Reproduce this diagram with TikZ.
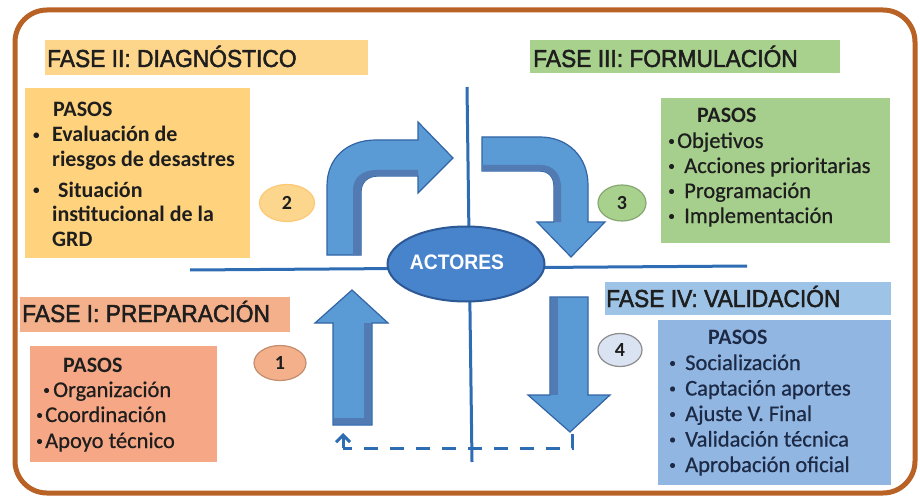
\documentclass[tikz,border=0pt]{standalone}
\usepackage{fontspec}
\setmainfont{Carlito}
\newfontfamily\boxfont[FakeBold=0.6]{Carlito}
\newfontfamily\fasefont[FakeStretch=0.93,FakeBold=2]{Liberation Sans}
\newfontfamily\actfont[FakeStretch=0.92]{Liberation Sans}
\usetikzlibrary{arrows.meta,shapes.geometric}
\definecolor{frame}{RGB}{185,98,38}
\definecolor{yelLbl}{RGB}{253,214,140}
\definecolor{yelBox}{RGB}{255,210,125}
\definecolor{yelCirc}{RGB}{252,214,140}
\definecolor{grnLbl}{RGB}{169,209,142}
\definecolor{grnBox}{RGB}{166,206,140}
\definecolor{salLbl}{RGB}{244,176,138}
\definecolor{salBox}{RGB}{246,168,134}
\definecolor{bluLbl}{RGB}{157,195,230}
\definecolor{bluBox}{RGB}{146,182,226}
\definecolor{greyCirc}{RGB}{218,227,242}
\definecolor{lineBlue}{RGB}{46,108,180}
\definecolor{arrFace}{RGB}{91,155,213}
\definecolor{arrDark}{RGB}{50,100,165}
\definecolor{ellFill}{RGB}{72,132,204}
\definecolor{ellEdge}{RGB}{44,88,150}
\definecolor{txtDark}{RGB}{30,30,30}
\definecolor{txtNavy}{RGB}{28,42,70}
\newcommand{\smallbul}{\raisebox{0.12em}{\scalebox{0.6}{\textbullet}}}
\begin{document}
\begin{tikzpicture}[x=1pt,y=-1pt,
  panel/.style={rectangle, inner sep=0pt, anchor=north west, draw=none},
  lbl/.style={anchor=base west, inner sep=0pt, text=txtDark, font=\fasefont\fontsize{24.5}{28}\selectfont},
  txt/.style={anchor=base west, inner sep=0pt, text=txtDark, font=\boxfont\fontsize{22.5}{26}\selectfont},
  btxt/.style={anchor=base west, inner sep=0pt, text=txtDark, font=\bfseries\fontsize{22}{26}\selectfont},
  num/.style={ellipse, inner sep=0pt, line width=1.2pt, font=\bfseries\fontsize{20}{24}\selectfont, text=txtDark},
  bigarrow/.style={fill=arrFace, draw=arrDark, line width=1.2pt, line join=miter},
  bevel/.style={fill=arrDark!85, draw=none},
  axis/.style={draw=lineBlue, line width=3pt},
  dashline/.style={draw=lineBlue, line width=3pt, dash pattern=on 14pt off 12pt}
]
\useasboundingbox (0,0) rectangle (920,497);
\fill[white] (0,0) rectangle (920,497);
% frame
\draw[frame, line width=5pt, rounded corners=32pt] (15,10) rectangle (915,493);

% phase labels
\node[panel, fill=yelLbl, minimum width=323pt, minimum height=35pt] (l2) at (45,40) {};
\node[panel, fill=grnLbl, minimum width=310pt, minimum height=33pt] (l3) at (530,40) {};
\node[panel, fill=salLbl, minimum width=270pt, minimum height=35pt] (l1) at (20,297) {};
\node[panel, fill=bluLbl, minimum width=286pt, minimum height=33pt] (l4) at (605,282) {};
\node[lbl] (t2) at (47,67) {FASE II: DIAGNÓSTICO};
\node[lbl] (t3) at (533,67) {FASE III: FORMULACIÓN};
\node[lbl] (t1) at (22,322) {FASE I: PREPARACIÓN};
\node[lbl] (t4) at (606,307) {FASE IV: VALIDACIÓN};

% step boxes
\node[panel, fill=yelBox, minimum width=225pt, minimum height=170pt] (b2) at (25,88) {};
\node[panel, fill=grnBox, minimum width=229pt, minimum height=145pt] (b3) at (661,98) {};
\node[panel, fill=salBox, minimum width=187pt, minimum height=116pt] (b1) at (30,346) {};
\node[panel, fill=bluBox, minimum width=233pt, minimum height=165pt] (b4) at (658,320) {};

% box II text
\node[btxt] (p2) at (53,117) {PASOS};
\node[btxt] (p2b1) at (33,142) {\smallbul};
\node[btxt] (p2a) at (52,142) {Evaluación de};
\node[btxt] (p2b) at (52,167) {riesgos de desastres};
\node[btxt] (p2b2) at (33,197) {\smallbul};
\node[btxt] (p2c) at (58,197) {Situación};
\node[btxt] (p2d) at (52,221) {institucional de la};
\node[btxt] (p2e) at (52,246) {GRD};

% box III text
\node[btxt] (p3) at (697,123) {PASOS};
\node[txt] (p3b1) at (668,148) {\smallbul};
\node[txt] (p3a) at (677,148) {Objetivos};
\node[txt] (p3b2) at (668,173) {\smallbul};
\node[txt] (p3b) at (684,173) {Acciones prioritarias};
\node[txt] (p3b3) at (668,198) {\smallbul};
\node[txt] (p3c) at (684,198) {Programación};
\node[txt] (p3b4) at (668,223) {\smallbul};
\node[txt] (p3d) at (684,223) {Implementación};

% box IV text
\node[btxt, text=txtNavy] (p4) at (708,344) {PASOS};
\node[txt, text=txtNavy] (p4b1) at (669,370) {\smallbul};
\node[txt, text=txtNavy] (p4a) at (685,370) {Socialización};
\node[txt, text=txtNavy] (p4b2) at (669,395.5) {\smallbul};
\node[txt, text=txtNavy] (p4b) at (685,395.5) {Captación aportes};
\node[txt, text=txtNavy] (p4b3) at (669,421) {\smallbul};
\node[txt, text=txtNavy] (p4c) at (685,421) {Ajuste V. Final};
\node[txt, text=txtNavy] (p4b4) at (669,446.5) {\smallbul};
\node[txt, text=txtNavy] (p4d) at (685,446.5) {Validación técnica};
\node[txt, text=txtNavy] (p4b5) at (669,472) {\smallbul};
\node[txt, text=txtNavy] (p4e) at (685,472) {Aprobación oficial};

% box I text
\node[btxt] (p1) at (63,372) {PASOS};
\node[txt] (p1b1) at (43,397) {\smallbul};
\node[txt] (p1a) at (53,397) {Organización};
\node[txt] (p1b2) at (36,422) {\smallbul};
\node[txt] (p1b) at (45,422) {Coordinación};
\node[txt] (p1b3) at (36,448) {\smallbul};
\node[txt] (p1c) at (45,448) {Apoyo técnico};

% number bubbles
\node[num, fill=salLbl, draw=salLbl!80!black, minimum width=52pt, minimum height=35pt] (n1) at (280,363) {1};
\node[num, fill=yelCirc, draw=yelCirc!85!orange, minimum width=55pt, minimum height=37pt] (n2) at (287,203) {2};
\node[num, fill=grnLbl, draw=grnLbl!80!black, minimum width=48pt, minimum height=36pt] (n3) at (622,203) {3};
\node[num, fill=greyCirc, draw=black!45, minimum width=44pt, minimum height=33pt] (n4) at (620,350) {4};

% axes
\coordinate (vtop) at (467,87);
\coordinate (vbot) at (472,462);
\coordinate (hl) at (190,270);
\coordinate (hr) at (747,266);
\draw[axis] (hl) -- (hr);
\draw[axis] (vtop) -- (vbot);

% arrow 1 (up)
\draw[bigarrow] (333,425) -- (333,323) -- (315,323) -- (352,290) -- (388,323) -- (372,323) -- (372,425) -- cycle;
\fill[bevel] (364,323) -- (371.4,323) -- (371.4,424.4) -- (364,424.4) -- cycle;
\fill[bevel] (333.6,418) -- (371.4,418) -- (371.4,424.4) -- (333.6,424.4) -- cycle;

% arrow 2 (bent up-right)
\draw[bigarrow] (327,255) -- (327,186) .. controls (327,158) and (347,140) .. (376,140) -- (418,140) -- (418,122) -- (453,158) -- (418,193) -- (418,176) -- (378,176) .. controls (368,176) and (361,182) .. (361,192) -- (361,255) -- cycle;
\fill[bevel] (353,255) -- (353,190) .. controls (353,178) and (362,170) .. (376,170) -- (418,170) -- (418,176) -- (378,176) .. controls (368,176) and (361,182) .. (361,192) -- (361,255) -- cycle;

% arrow 3 (bent right-down)
\draw[bigarrow] (482,137) -- (540,137) .. controls (568,137) and (588,157) .. (588,185) -- (588,222) -- (605,222) -- (571,257) -- (537,222) -- (554,222) -- (554,187) .. controls (554,177) and (549,171) .. (539,171) -- (482,171) -- cycle;
\fill[bevel] (554,222) -- (554,187) .. controls (554,177) and (549,171) .. (539,171) -- (482,171) -- (482,165) -- (541,165) .. controls (553,165) and (561,174) .. (561,187) -- (561,222) -- cycle;

% arrow 4 (down)
\draw[bigarrow] (550,297) -- (588,297) -- (588,395) -- (610,395) -- (570,432) -- (528,395) -- (550,395) -- cycle;
\fill[bevel] (550.6,297.6) -- (558,297.6) -- (558,395) -- (550.6,395) -- cycle;

% ellipse
\node[ellipse, fill=ellFill, draw=ellEdge, line width=2pt, minimum width=157pt, minimum height=75pt, inner sep=0pt] (act) at (466,264) {};
\node[anchor=base, inner sep=0pt, text=white, font=\actfont\bfseries\fontsize{21}{24}\selectfont] (actt) at (457,269) {ACTORES};

% dashed feedback connector
\coordinate (a4tip) at (572,434);
\coordinate (dcorner) at (343,448);
\coordinate (a1foot) at (343,433);
\draw[dashline] (a4tip) |- (dcorner);
\draw[draw=lineBlue, line width=3pt, -{Straight Barb[length=7pt,width=14pt]}] (dcorner) -- (a1foot);
\end{tikzpicture}
\end{document}
